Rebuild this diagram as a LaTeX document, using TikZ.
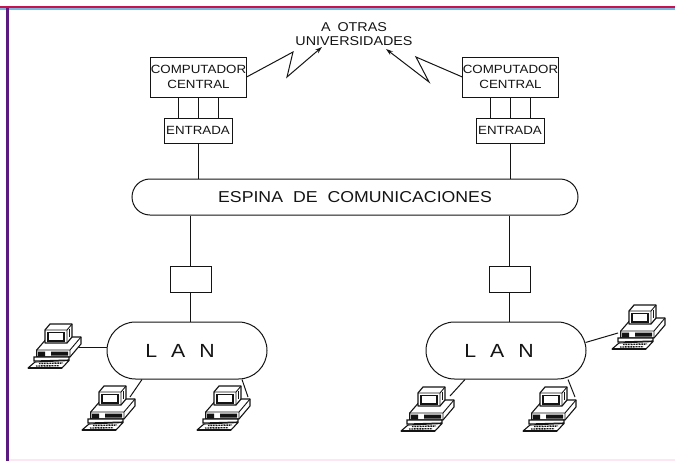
\documentclass[tikz,border=0pt]{standalone}
\usepackage{fontspec}
\setmainfont[FakeStretch=1.12]{Liberation Sans}
\usetikzlibrary{shapes.misc,arrows.meta}
\definecolor{inkc}{HTML}{141414}
\definecolor{barred}{HTML}{C8124E}
\definecolor{barblue}{HTML}{3F9AD0}
\definecolor{barpurple}{HTML}{5A1A80}
\definecolor{barpink}{HTML}{FBE6F2}
\newcommand{\gapw}[1]{\hspace*{#1pt}}
\tikzset{
  x=1pt,y=-1pt,
  ln/.style={draw=inkc,line width=1pt},
  boxn/.style={ln,rectangle,inner sep=0pt,align=center,font=\fontsize{11.9}{15}\selectfont,text=inkc},
  pill/.style={ln,rounded rectangle,rounded rectangle arc length=180,inner sep=0pt,text=inkc},
  lbl/.style={inner sep=0pt,align=center,text=inkc},
  arr/.style={ln,-{Stealth[length=7pt,width=4.5pt]}},
  pc/.pic={
    \draw[inkc,line width=1.1pt,fill=white,line join=round] (20,14)--(53,14)--(53,21)--(42,34)--(8.7,34)--(8.7,27)--cycle;
    \draw[inkc,line width=0.9pt] (8.7,27)--(42,27)--(53,14) (42,27)--(42,34);
    \fill[inkc] (10,28.5) rectangle (17,33.5) (23,28.5) rectangle (40,32.5);
    \draw[inkc,line width=1.2pt,fill=white,line join=round] (17,7)--(22,1)--(44,1)--(44,14)--(39,20)--(17,20)--cycle;
    \draw[inkc,line width=0.9pt] (17,7)--(39,7)--(44,1) (39,7)--(39,20);
    \draw[inkc,line width=1.4pt] (20,9.5) rectangle (36,18);
    \draw[inkc,line width=0.8pt] (41,6)--(41,14);
    \draw[inkc,line width=1.1pt,fill=white] (6,34)--(41,34)--(41,37)--(6,38)--cycle;
    \draw[inkc,line width=1.1pt,fill=white,line join=round] (0,45)--(7,39)--(41,37.5)--(34,45)--cycle;
    \draw[inkc,line width=1.8pt] (0,45)--(34,45);
    \draw[inkc,line width=1.4pt,dash pattern=on 1pt off 0.6pt] (11,40.5)--(35,40) (8,43)--(31,42.7);
  }
}
\begin{document}
\begin{tikzpicture}
\useasboundingbox (0,0) rectangle (675,461);
% page rules
\fill[barred] (0,5.8) rectangle (675,8);
\fill[barblue!70] (0,8) rectangle (675,9.8);
\fill[barpurple] (6,8) rectangle (8.5,461);
\fill[barpink] (8.5,459) rectangle (675,461);

% upper nodes
\node[lbl,font=\fontsize{12.8}{14.5}\selectfont] (uni) at (354,34) {A\gapw{7}OTRAS\\UNIVERSIDADES};
\node[boxn,minimum width=95pt,minimum height=40pt] (cc1) at (198.5,77) {COMPUTADOR\\CENTRAL};
\node[boxn,minimum width=95pt,minimum height=40pt] (cc2) at (510.5,77) {COMPUTADOR\\CENTRAL};
\node[boxn,minimum width=68pt,minimum height=25pt] (en1) at (198,130.5) {ENTRADA};
\node[boxn,minimum width=68pt,minimum height=25pt] (en2) at (510,130.5) {ENTRADA};
\node[pill,minimum width=446pt,minimum height=36pt,font=\fontsize{15.8}{17}\selectfont] (esp) at (355,197) {ESPINA\gapw{10}DE\gapw{10}COMUNICACIONES};
\node[boxn,minimum width=41pt,minimum height=26pt] (hub1) at (190.5,279) {};
\node[boxn,minimum width=41pt,minimum height=26pt] (hub2) at (509.5,279) {};
\node[pill,minimum width=160pt,minimum height=57pt,font=\fontsize{19}{20}\selectfont] (lan1) at (187,350.5) {L\gapw{14}A\gapw{14}N\gapw{14}};
\node[pill,minimum width=160pt,minimum height=57pt,font=\fontsize{19}{20}\selectfont] (lan2) at (506,350.5) {L\gapw{14}A\gapw{14}N\gapw{14}};

% radio links
\coordinate (zl1) at (293,52);
\coordinate (zl2) at (287,77);
\coordinate (zl3) at (322,47);
\coordinate (zr1) at (416,57);
\coordinate (zr2) at (429,82);
\coordinate (zr3) at (386,49);
\draw[arr] (cc1.east) -- (zl1) -- (zl2) -- (zl3);
\draw[arr] (cc2.west) -- (zr1) -- (zr2) -- (zr3);

% vertical links
\foreach \cc/\en in {cc1/en1,cc2/en2}{
  \foreach \d in {-20,0,20}{
    \draw[ln] ([xshift=\d pt]\en.north) -- ([xshift=\d pt]\en.north |- \cc.south);
  }
}
\draw[ln] (en1.south) -- (en1.south |- esp.north);
\draw[ln] (en2.south) -- (en2.south |- esp.north);
\draw[ln] (hub1.north) -- (hub1.north |- esp.south);
\draw[ln] (hub2.north) -- (hub2.north |- esp.south);
\draw[ln] (hub1.south) -- (hub1.south |- lan1.north);
\draw[ln] (hub2.south) -- (hub2.south |- lan2.north);

% computers and their links
\coordinate (p1) at (79,347);
\coordinate (p2) at (130,397);
\coordinate (p3) at (248,397);
\coordinate (p4) at (450,396);
\coordinate (p5) at (575,397);
\coordinate (p6) at (618,333);
\draw[ln] (p1) -- (p1 -| lan1.west);
\draw[ln] (p2) -- ([xshift=-45pt]lan1.south);
\draw[ln] (p3) -- ([xshift=55pt]lan1.south);
\draw[ln] (p4) -- ([xshift=-41pt]lan2.south);
\draw[ln] (p5) -- ([xshift=62pt]lan2.south);
\draw[ln] (p6) -- ([shift={(-1,-8)}]lan2.east);
\pic at (28,323) {pc};
\pic at (82,385) {pc};
\pic at (197,385) {pc};
\pic at (401,386) {pc};
\pic at (523,386) {pc};
\pic at (612,304) {pc};
\end{tikzpicture}
\end{document}
